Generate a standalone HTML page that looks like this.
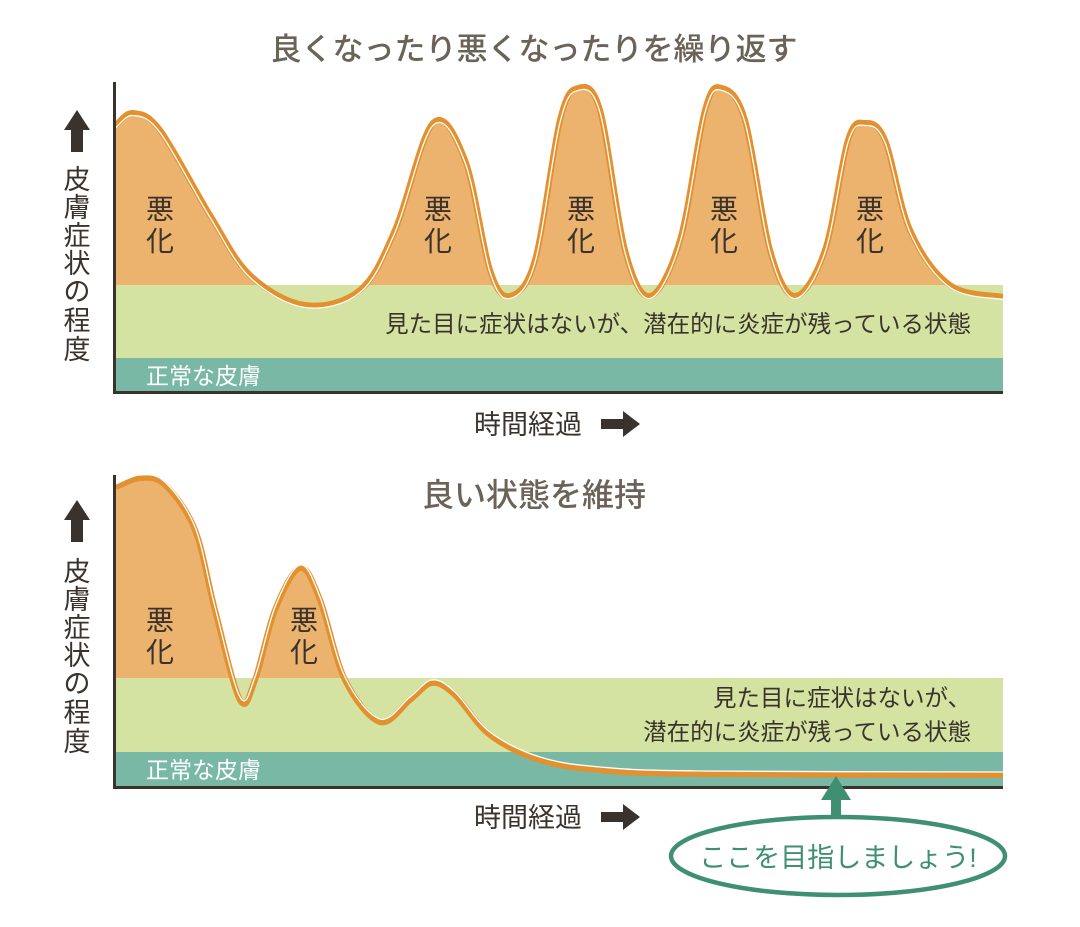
<!DOCTYPE html>
<html><head><meta charset="utf-8">
<style>
html,body{margin:0;padding:0;background:#fff;}
svg text{font-family:"Liberation Sans","Noto Sans CJK JP",sans-serif;}
</style></head>
<body>
<svg id="svg" width="1080" height="922" viewBox="0 0 1080 922" xmlns="http://www.w3.org/2000/svg">
<defs>
<clipPath id="clipTop"><rect x="116" y="60" width="887" height="225"/></clipPath>
<clipPath id="clipBot"><rect x="116" y="460" width="887" height="218"/></clipPath>
<clipPath id="plotTop"><rect x="116" y="60" width="887" height="331"/></clipPath>
<clipPath id="plotBot"><rect x="116" y="460" width="887" height="325"/></clipPath>
</defs>

<text x="534" y="60" font-size="31" font-weight="500" fill="#6b6258" text-anchor="middle">良くなったり悪くなったりを繰り返す</text>

<g id="top">
  <path id="topFill" clip-path="url(#clipTop)" fill="#ecb36e"/>
  <rect x="116" y="285" width="887" height="74" fill="#d4e3a2"/>
  <rect x="116" y="358" width="887" height="33" fill="#79b8a5"/>
  <g clip-path="url(#plotTop)">
  <path id="topLine" fill="none" stroke="#e3902f" stroke-width="6"/>
  <path id="topLine2" fill="none" stroke="#fff" stroke-width="1.3" transform="translate(0,2.5)"/>
  </g>
  <line x1="114.5" y1="82" x2="114.5" y2="394" stroke="#3a332d" stroke-width="3"/>
  <line x1="113" y1="392.5" x2="1003" y2="392.5" stroke="#3a332d" stroke-width="3"/>
  <g font-size="28" fill="#3a332d" text-anchor="middle">
    <text x="160" y="219">悪</text><text x="160" y="251">化</text>
    <text x="438" y="219">悪</text><text x="438" y="251">化</text>
    <text x="581" y="219">悪</text><text x="581" y="251">化</text>
    <text x="724" y="219">悪</text><text x="724" y="251">化</text>
    <text x="870" y="219">悪</text><text x="870" y="251">化</text>
  </g>
  <text x="971" y="332" font-size="23.5" fill="#3a332d" text-anchor="end">見た目に症状はないが、潜在的に炎症が残っている状態</text>
  <text x="146" y="384" font-size="23" fill="#fff">正常な皮膚</text>
</g>

<g>
  <polygon points="77,110 64,130 71,130 71,152 83,152 83,130 90,130" fill="#3a332d"/>
  <g font-size="27" fill="#3a332d" text-anchor="middle">
    <text x="77" y="189">皮</text><text x="77" y="217">膚</text><text x="77" y="245">症</text><text x="77" y="273">状</text><text x="77" y="301">の</text><text x="77" y="330">程</text><text x="77" y="359">度</text>
  </g>
</g>
<g>
  <text x="474" y="434" font-size="27" fill="#3a332d">時間経過</text>
  <polygon points="601,419 623,419 623,411 640,424 623,437 623,429 601,429" fill="#3a332d"/>
</g>

<text x="534" y="506" font-size="32" font-weight="500" fill="#6b6258" text-anchor="middle">良い状態を維持</text>

<g id="bot">
  <path id="botFill" clip-path="url(#clipBot)" fill="#ecb36e"/>
  <rect x="116" y="678" width="887" height="75" fill="#d4e3a2"/>
  <rect x="116" y="752" width="887" height="34" fill="#79b8a5"/>
  <g clip-path="url(#plotBot)">
  <path id="botLine" fill="none" stroke="#e3902f" stroke-width="6"/>
  <path id="botLine2" fill="none" stroke="#fff" stroke-width="1.3" transform="translate(0,-3)"/>
  </g>
  <line x1="114.5" y1="475" x2="114.5" y2="789" stroke="#3a332d" stroke-width="3"/>
  <line x1="113" y1="787.5" x2="1003" y2="787.5" stroke="#3a332d" stroke-width="3"/>
  <g font-size="28" fill="#3a332d" text-anchor="middle">
    <text x="160" y="630">悪</text><text x="160" y="662">化</text>
    <text x="304" y="630">悪</text><text x="304" y="662">化</text>
  </g>
  <text x="971" y="706" font-size="23.5" fill="#3a332d" text-anchor="end">見た目に症状はないが、</text>
  <text x="971" y="740" font-size="23.5" fill="#3a332d" text-anchor="end">潜在的に炎症が残っている状態</text>
  <text x="146" y="778" font-size="23" fill="#fff">正常な皮膚</text>
</g>

<g>
  <polygon points="77,500 64,520 71,520 71,542 83,542 83,520 90,520" fill="#3a332d"/>
  <g font-size="27" fill="#3a332d" text-anchor="middle">
    <text x="77" y="581">皮</text><text x="77" y="609">膚</text><text x="77" y="637">症</text><text x="77" y="665">状</text><text x="77" y="693">の</text><text x="77" y="722">程</text><text x="77" y="751">度</text>
  </g>
</g>
<g>
  <text x="474" y="827" font-size="27" fill="#3a332d">時間経過</text>
  <polygon points="601,812 623,812 623,804 640,817 623,830 623,822 601,822" fill="#3a332d"/>
</g>

<g>
  <polygon points="836,776 821,800 831,800 831,818 841,818 841,800 851,800" fill="#3f8f72"/>
  <ellipse cx="838" cy="856" rx="167" ry="39" fill="#fff" stroke="#3f8f72" stroke-width="4.5"/>
  <text x="838" y="867" font-size="27" fill="#3f8f72" text-anchor="middle">ここを目指しましょう!</text>
</g>
</svg>

<script>
// Top chart: time (days from axis) and symptom severity
const topTime = [2,19,46,96,136,191,246,281,319,351,376,396,421,446,464,486,511,536,566,591,608,631,656,681,711,734,751,771,796,836,889];
const topSeverity = [268,280,263,178,118,88,103,163,270,233,123,97,133,273,305,283,143,97,153,283,305,273,143,97,143,253,270,253,163,108,96];
// Bottom chart
const botTime = [2,26,51,81,101,126,141,161,186,206,231,266,296,318,341,376,426,486,586,889];
const botSeverity = [301,310,303,258,178,88,108,178,220,188,108,66,88,105,93,53,28,18,14,13];

function xScale(t){ return 114 + t; }
function yTop(v){ return 393 - v; }
function yBot(v){ return 788 - v; }

function smoothPath(xs, ys){
  const p = xs.map((x,i)=>[x, ys[i]]);
  let d = 'M' + p[0][0] + ',' + p[0][1];
  for(let i=0;i<p.length-1;i++){
    const p0 = p[i-1]||p[i], p1=p[i], p2=p[i+1], p3=p[i+2]||p2;
    const c1x = p1[0]+(p2[0]-p0[0])/6, c1y = p1[1]+(p2[1]-p0[1])/6;
    const c2x = p2[0]-(p3[0]-p1[0])/6, c2y = p2[1]-(p3[1]-p1[1])/6;
    d += ' C'+c1x.toFixed(1)+','+c1y.toFixed(1)+' '+c2x.toFixed(1)+','+c2y.toFixed(1)+' '+p2[0]+','+p2[1];
  }
  return d;
}
function build(times, sev, yS, base, lineId, line2Id, fillId){
  const xs = times.map(xScale), ys = sev.map(yS);
  const d = smoothPath(xs, ys);
  document.getElementById(lineId).setAttribute('d', d);
  document.getElementById(line2Id).setAttribute('d', d);
  document.getElementById(fillId).setAttribute('d', 'M116,'+base+' L116,'+ys[0]+' L'+xs[0]+','+ys[0]+' '+d.slice(1)+' L1003,'+ys[ys.length-1]+' L1003,'+base+' Z');
}
build(topTime, topSeverity, yTop, 393, 'topLine', 'topLine2', 'topFill');
build(botTime, botSeverity, yBot, 788, 'botLine', 'botLine2', 'botFill');
</script>
</body></html>
